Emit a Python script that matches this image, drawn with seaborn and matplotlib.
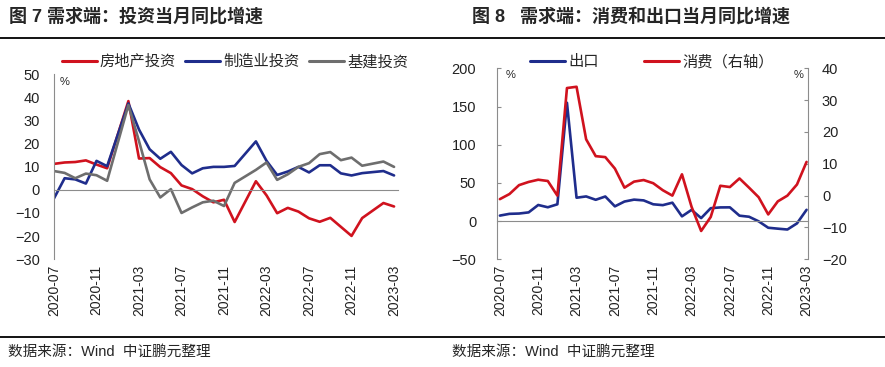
import matplotlib
matplotlib.use("Agg")
import matplotlib.pyplot as plt
import seaborn as sns
import pandas as pd
from matplotlib.lines import Line2D

# months on the category axis
months = ["2020-07", "2020-08", "2020-09", "2020-10", "2020-11", "2020-12",
          "2021-01", "2021-02", "2021-03", "2021-04", "2021-05", "2021-06",
          "2021-07", "2021-08", "2021-09", "2021-10", "2021-11", "2021-12",
          "2022-01", "2022-02", "2022-03", "2022-04", "2022-05", "2022-06",
          "2022-07", "2022-08", "2022-09", "2022-10", "2022-11", "2022-12",
          "2023-01", "2023-02", "2023-03"]
tick_labels = months[::4]

# fig 7: investment, single-month yoy (%), January not reported
real_estate = [11.2, 11.8, 12.0, 12.7, 10.9, 9.3, None, 38.3, 13.5, 13.7, 9.8, 7.2,
               1.9, 0.3, -2.8, -5.4, -4.3, -13.9, None, 3.7, -2.4, -10.1, -7.8, -9.4,
               -12.3, -13.8, -12.1, -16.0, -19.9, -12.2, None, -5.7, -7.2]
manufacturing = [-3.7, 5.0, 4.5, 2.7, 12.5, 10.2, None, 37.3, 26.0, 17.5, 13.4, 16.4,
                 10.7, 7.1, 9.3, 9.9, 9.9, 10.3, None, 20.9, 12.5, 6.4, 7.9, 9.9,
                 7.5, 10.6, 10.6, 7.1, 6.2, 7.2, None, 8.1, 6.2]
infrastructure = [8.1, 7.3, 5.0, 7.0, 6.3, 3.9, None, 36.6, 21.0, 4.5, -3.3, 0.3,
                  -10.0, -7.6, -5.4, -4.7, -7.0, 3.0, None, 8.6, 11.8, 4.3, 6.7, 9.9,
                  11.5, 15.4, 16.3, 12.8, 13.9, 10.4, None, 12.2, 9.9]

# fig 8: exports (left axis) and retail sales (right axis), yoy (%)
exports = [7.2, 9.5, 9.9, 11.4, 21.1, 18.1, 22.0, 154.9, 30.6, 32.3, 27.9, 32.2,
           19.3, 25.6, 28.1, 27.1, 22.0, 20.9, 24.1, 6.2, 14.7, 3.9, 16.9, 17.9,
           18.0, 7.1, 5.7, -0.3, -8.7, -9.9, -11.0, -3.0, 14.8]
consumption = [-1.1, 0.5, 3.3, 4.3, 5.0, 4.6, 0.0, 33.8, 34.2, 17.7, 12.4, 12.1,
               8.5, 2.5, 4.4, 4.9, 3.9, 1.7, 0.0, 6.7, -3.5, -11.1, -6.7, 3.1,
               2.7, 5.4, 2.5, -0.5, -5.9, -1.8, 0.0, 3.5, 10.6]

RED = "#D0121E"
BLUE = "#1F2D8C"
GRAY = "#6E6E6E"
AXIS = "#8C8C8C"

sns.set_style("white")
plt.rcParams["font.family"] = ["Liberation Sans", "Noto Sans CJK SC"]
plt.rcParams["axes.unicode_minus"] = True

W, H = 885, 367
fig = plt.figure(figsize=(W / 100, H / 100), dpi=100)


def box(x0, y0, x1, y1):
    return [x0 / W, 1 - y1 / H, (x1 - x0) / W, (y1 - y0) / H]


ax1 = fig.add_axes(box(54, 74, 398.3, 259.3))
ax2 = fig.add_axes(box(497, 68.3, 808, 259.3))
ax2r = ax2.twinx()

idx = list(range(len(months)))

# ---- left chart
inv = pd.DataFrame({"x": idx, "房地产投资": real_estate,
                    "制造业投资": manufacturing, "基建投资": infrastructure})
inv_long = inv.melt(id_vars="x", var_name="series", value_name="yoy").dropna()
inv_colors = {"房地产投资": RED, "制造业投资": BLUE, "基建投资": GRAY}
sns.lineplot(data=inv_long, x="x", y="yoy", hue="series",
             hue_order=["房地产投资", "制造业投资", "基建投资"],
             palette=inv_colors, linewidth=1.9, ax=ax1, legend=False)

# ---- right chart
trade = pd.DataFrame({"x": idx, "出口": exports, "消费": consumption})
sns.lineplot(data=trade, x="x", y="出口", color=BLUE, linewidth=1.9, ax=ax2)
sns.lineplot(data=trade, x="x", y="消费", color=RED, linewidth=1.9, ax=ax2r)


def style(ax, xlim, ylim, yticks, ypad):
    for s in ["top", "right"]:
        ax.spines[s].set_visible(False)
    ax.spines["left"].set_color(AXIS)
    ax.spines["bottom"].set_position(("data", 0))
    ax.spines["bottom"].set_color(AXIS)
    ax.set_xlim(*xlim)
    ax.set_ylim(*ylim)
    ax.set_yticks(yticks)
    ax.set_xticks(range(0, len(months), 4))
    ax.tick_params(axis="x", direction="in", length=4, width=0.8, color=AXIS,
                   labelbottom=False)
    ax.tick_params(axis="y", direction="in", length=3, width=0.8, color=AXIS,
                   labelsize=10.5, pad=ypad, labelcolor="#222222")
    ax.set_xlabel("")
    ax.set_ylabel("")
    sec = ax.secondary_xaxis("bottom")
    sec.set_xticks(range(0, len(months), 4), tick_labels, rotation=90)
    sec.tick_params(length=0, pad=4, labelsize=10, labelcolor="#222222")
    sec.spines["bottom"].set_visible(False)


style(ax1, (0, 32.4), (-30, 50), range(-30, 51, 10), 10)
style(ax2, (-0.3, 32.15), (-50, 200), range(-50, 201, 50), 15)

for s in ["top", "left", "bottom"]:
    ax2r.spines[s].set_visible(False)
ax2r.spines["right"].set_color(AXIS)
ax2r.set_ylim(-20, 40)
ax2r.set_yticks(range(-20, 41, 10))
ax2r.tick_params(axis="y", direction="in", length=3, width=0.8, color=AXIS,
                 labelsize=10.5, pad=10, labelcolor="#222222")
ax2r.set_ylabel("")

# percent markers
ax1.text(0.015, 0.985, "%", transform=ax1.transAxes, fontsize=8, va="top")
ax2.text(0.028, 0.99, "%", transform=ax2.transAxes, fontsize=8, va="top")
ax2.text(0.953, 0.99, "%", transform=ax2.transAxes, fontsize=8, va="top")

# legends
h_inv = [Line2D([], [], color=c, lw=2.2) for c in [RED, BLUE, GRAY]]
ax1.legend(h_inv, ["房地产投资", "制造业投资", "基建投资"], loc="center",
           bbox_to_anchor=(0.525, 1.065), ncol=3, frameon=False, fontsize=11,
           handlelength=2.3, handletextpad=0.2, columnspacing=0.6)
h_trade = [Line2D([], [], color=BLUE, lw=2.2), Line2D([], [], color=RED, lw=2.2)]
ax2r.legend(h_trade, ["出口", "消费（右轴）"], loc="center",
            bbox_to_anchor=(0.498, 1.033), ncol=2, frameon=False, fontsize=11,
            handlelength=2.3, handletextpad=0.2, columnspacing=3.0)

# titles, rules and sources
fig.text(9 / W, 1 - 17 / H, "图 7 需求端：投资当月同比增速", fontsize=13,
         fontweight="bold", va="center", ha="left")
fig.text(472 / W, 1 - 17 / H, "图 8   需求端：消费和出口当月同比增速", fontsize=13,
         fontweight="bold", va="center", ha="left")
for yy in [38, 337]:
    fig.add_artist(Line2D([0, 1], [1 - yy / H, 1 - yy / H], transform=fig.transFigure,
                          color="black", lw=1.3))
fig.text(8 / W, 1 - 352 / H, "数据来源：Wind  中证鹏元整理", fontsize=10.5,
         va="center", ha="left")
fig.text(452 / W, 1 - 352 / H, "数据来源：Wind  中证鹏元整理", fontsize=10.5,
         va="center", ha="left")

fig.savefig("out.png", dpi=100)
